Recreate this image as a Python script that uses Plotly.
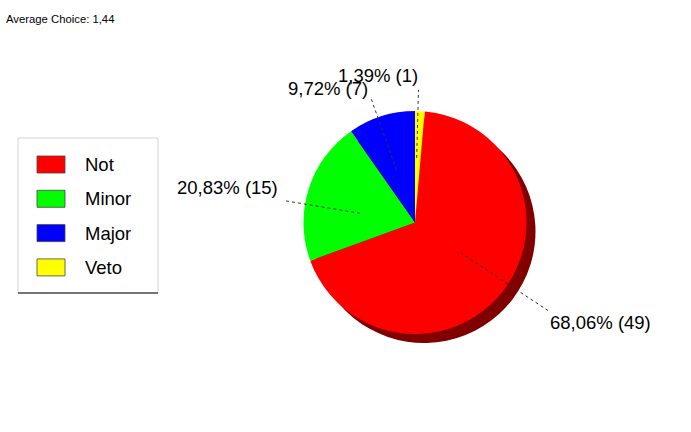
import math
import plotly.graph_objects as go

# ---- data ----
categories = ["Not", "Minor", "Major", "Veto"]
counts = [49, 15, 7, 1]
choice_values = [1, 2, 3, 4]
colors = ["#FF0000", "#00FF00", "#0000FF", "#FFFF00"]
shadow_color = "#800000"

W, H = 691, 432
total = sum(counts)
avg = sum(c * v for c, v in zip(counts, choice_values)) / total
pcts = [c / total * 100 for c in counts]

def fmt(p):
    return f"{p:.2f}".replace(".", ",")

# pie geometry (pixels)
cx, cy, R = 415, 222.5, 111.5
shadow_dx, shadow_dy = 9, 9
start_rot = counts[-1] / total * 360  # first slice starts after the veto wedge

def px2paper(x, y):
    return x / W, 1 - y / H

def domain(cx_, cy_):
    x0, y1 = px2paper(cx_ - R, cy_ - R)
    x1, y0 = px2paper(cx_ + R, cy_ + R)
    return dict(x=[x0, x1], y=[y0, y1])

fig = go.Figure()
# shadow / extrusion
fig.add_trace(go.Pie(values=counts, labels=categories, sort=False, direction="clockwise",
                     rotation=start_rot, marker=dict(colors=[shadow_color] * 4, line=dict(width=0)),
                     textinfo="none", hoverinfo="skip", showlegend=False,
                     domain=domain(cx + shadow_dx, cy + shadow_dy)))
fig.add_trace(go.Pie(values=counts, labels=categories, sort=False, direction="clockwise",
                     rotation=start_rot, marker=dict(colors=colors, line=dict(width=0)),
                     textinfo="none", showlegend=False, domain=domain(cx, cy)))

shapes = []
annotations = []

# leader lines and labels
angle_adj = [-4, -8, -2, -1]
outer_r = [1.44, 1.2, 1.19, 1.19]
inner_r = [0.49, 0.5, 0.5, 0.58]
label_xshift = [0, -4, -2, 1]
label_yshift = [0, 1, -3, 3]
cum = start_rot
for i, c in enumerate(counts):
    span = c / total * 360
    mid = cum + span / 2
    cum += span
    th = math.radians((mid + angle_adj[i]) % 360)
    ix, iy = cx + inner_r[i] * R * math.sin(th), cy - inner_r[i] * R * math.cos(th)
    ox, oy = cx + outer_r[i] * R * math.sin(th), cy - outer_r[i] * R * math.cos(th)
    a0 = px2paper(ix, iy)
    a1 = px2paper(ox, oy)
    shapes.append(dict(type="line", xref="paper", yref="paper", x0=a0[0], y0=a0[1], x1=a1[0], y1=a1[1],
                       line=dict(color="#333333", width=1, dash="dot")))
    xa = "left" if math.sin(th) > 0.05 else "right"
    ya = "top" if -math.cos(th) > 0 else "bottom"
    annotations.append(dict(x=a1[0], y=a1[1], xref="paper", yref="paper", xanchor=xa, yanchor=ya,
                            text=f"{fmt(pcts[i])}% ({c})", showarrow=False,
                            font=dict(size=18.5, color="black"), borderpad=0,
                            xshift=label_xshift[i], yshift=label_yshift[i]))

# legend box
lx0, ly0, lx1, ly1 = 18, 138, 158, 293
p0 = px2paper(lx0, ly0); p1 = px2paper(lx1, ly1)
shapes.append(dict(type="rect", xref="paper", yref="paper", x0=p0[0], y0=p1[1], x1=p1[0], y1=p0[1],
                   line=dict(color="#d4d4d4", width=1), fillcolor="white", layer="below"))
shapes.append(dict(type="line", xref="paper", yref="paper", x0=p0[0], y0=p1[1], x1=p1[0], y1=p1[1],
                   line=dict(color="black", width=1.2)))
step = 34.3
for i, cat in enumerate(categories):
    top = 156 + i * step
    s0 = px2paper(37, top); s1 = px2paper(65, top + 17)
    shapes.append(dict(type="rect", xref="paper", yref="paper", x0=s0[0], y0=s1[1], x1=s1[0], y1=s0[1],
                       fillcolor=colors[i], line=dict(color="#444444", width=0.8)))
    t = px2paper(83, top + 8.5)
    annotations.append(dict(x=t[0], y=t[1], xref="paper", yref="paper", xanchor="left", yanchor="middle",
                            text=cat, showarrow=False, font=dict(size=18.5, color="black")))

# title
tp = px2paper(4, 19)
annotations.append(dict(x=tp[0], y=tp[1], xref="paper", yref="paper", xanchor="left", yanchor="middle",
                        text=f"Average Choice: {avg:.2f}".replace(".", ","), showarrow=False,
                        font=dict(size=11.3, color="black")))

fig.update_layout(width=W, height=H, margin=dict(l=0, r=0, t=0, b=0),
                  paper_bgcolor="white", plot_bgcolor="white",
                  font=dict(family="Liberation Sans, Arial, sans-serif"),
                  shapes=shapes, annotations=annotations, showlegend=False)
fig.write_html("out.html", config={"displayModeBar": False},
               post_script="document.body.style.margin='0';document.body.style.padding='0';")
